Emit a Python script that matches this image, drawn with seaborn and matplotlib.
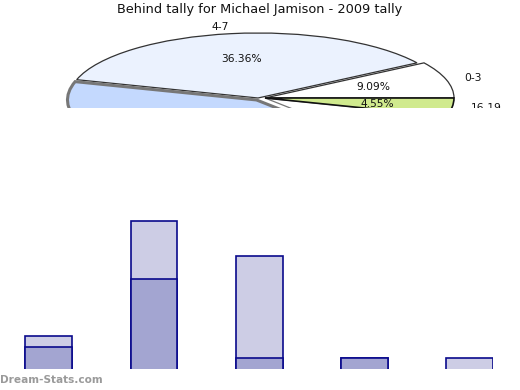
import matplotlib
matplotlib.use('Agg')
import matplotlib.pyplot as plt
import seaborn as sns

# pie: behind tally, share of games per range
pie_labels = ['0-3', '4-7', '8-11', '12-15', '16-19']
pie_counts = [2, 8, 9, 2, 1]
pie_colors = ['#FFFFFF', '#EBF2FE', '#C4D9FE', '#FFFFFF', '#D0EA8E']

# bars: stacked tally per range
bar_cats = ['0-3', '4-7', '8-11', '12-15', '16-19']
bar_lower = [2, 8, 1, 1, 0]
bar_upper = [1, 5, 9, 0, 1]

W, H = 520, 390
sns.set_style('white')
plt.rcParams['font.family'] = ['DejaVu Sans']

fig = plt.figure(figsize=(W / 100, H / 100), dpi=100)


def px_axes(x0, y0, x1, y1):
    # axes from pixel box (top-left origin)
    return fig.add_axes([x0 / W, 1 - y1 / H, (x1 - x0) / W, (y1 - y0) / H])


fig.text(0.5, 1 - 10 / H, 'Behind tally for Michael Jamison - 2009 tally',
         ha='center', va='center', fontsize=9.3, color='#111111')

# ---- pie, squashed to an ellipse and cut off at the bottom
cx, cy, rx, ry = 265, 98, 189, 65
top, bottom = 18, 108
ax = px_axes(0, top, W, bottom)
wedges, texts, autotexts = ax.pie(
    pie_counts, labels=pie_labels, colors=pie_colors, autopct='%.2f%%',
    startangle=0, counterclock=True,
    wedgeprops={'edgecolor': '#333333', 'linewidth': 0.9},
    textprops={'fontsize': 7.7, 'color': '#111111'})
ax.set_aspect('auto')
ax.set_xlim(-cx / rx, (W - cx) / rx)
ax.set_ylim(-(bottom - cy) / ry, (cy - top) / ry)
ax.axis('off')

# pulled-out slices
shifts = {1: (-0.037, 0.0), 2: (-0.045, -0.03)}
for i, (dx, dy) in shifts.items():
    wedges[i].set_center((dx, dy))
    for t in (texts[i], autotexts[i]):
        x, y = t.get_position()
        t.set_position((x + dx, y + dy))
wedges[2].set_edgecolor('#777777')
wedges[2].set_linewidth(2.2)
wedges[3].set_edgecolor('#777777')
wedges[4].set_linewidth(1.2)
wedges[4].set_edgecolor('#111111')
for w in wedges:
    w.set_clip_on(True)
    w.set_clip_box(ax.bbox)
for t in texts + autotexts:
    t.set_clip_on(True)

# ---- stacked bars, no axes
unit = 11.4
base = 369.7
bx0, step = 48.7, 105.3
ax2 = px_axes(0, 215, 493, 368.5)
totals = [a + b for a, b in zip(bar_lower, bar_upper)]
sns.barplot(x=bar_cats, y=totals, color='#CDCDE5', saturation=1, width=0.446,
            edgecolor='#0A0A8C', linewidth=1.2, ax=ax2)
sns.barplot(x=bar_cats, y=bar_lower, color='#A3A5D1', saturation=1, width=0.446,
            edgecolor='#0A0A8C', linewidth=1.2, ax=ax2)
ax2.set_xlim(-bx0 / step, (493 - bx0) / step)
ax2.set_ylim((base - 368.5) / unit, (base - 215) / unit)
ax2.axis('off')

fig.text(0, 1 - 380 / H, 'Dream-Stats.com', ha='left', va='center',
         fontsize=7.6, fontweight='bold', color='#9A9A9A')

fig.savefig('out.png', dpi=100)
